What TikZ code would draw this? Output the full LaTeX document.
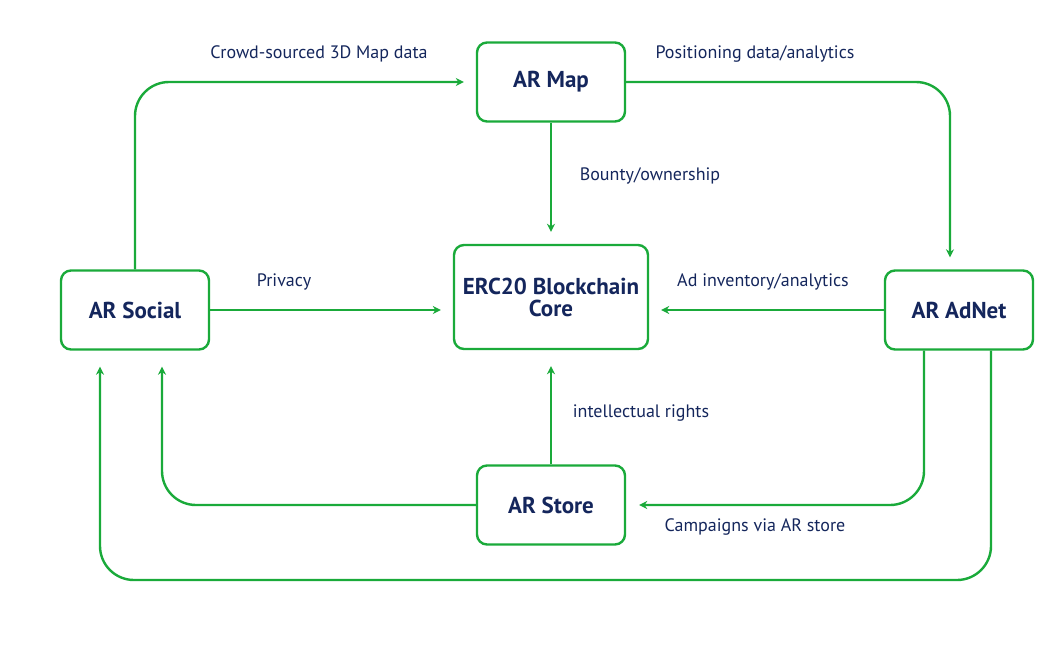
\documentclass[tikz,border=0pt]{standalone}
\usepackage{fontspec}
\setmainfont{PT Sans}
\usetikzlibrary{arrows.meta}
\definecolor{argreen}{RGB}{26,170,58}
\definecolor{arnavy}{RGB}{20,38,92}
\tikzset{
  box/.style = {draw = argreen, line width = 2.4pt, rounded corners = 10pt, fill = white,
    minimum width = 148pt, minimum height = 79pt, align = center, text = arnavy,
    font = \fontsize{23}{22}\selectfont\bfseries},
  flow/.style = {draw = argreen, line width = 2.4pt, rounded corners = 34pt,
    -{Stealth[length = 8pt, width = 8pt]}, shorten > = 12pt},
  lbl/.style = {text = arnavy, font = \fontsize{18}{21}\selectfont}
}
\begin{document}
\begin{tikzpicture}[x = 1pt, y = -1pt]
\useasboundingbox (0,0) rectangle (1054,645);
% boxes
\node [box] (map) at (551,82) {AR Map};
\node [box, minimum width = 194pt, minimum height = 104pt] (core) at (551,297) {ERC20 Blockchain\\Core};
\node [box] (social) at (135,310) {AR Social};
\node [box] (adnet) at (959,310) {AR AdNet};
\node [box] (store) at (551,505) {AR Store};
\coordinate (loop) at (100,580);
% connectors
\draw [flow] (social.north) |- (map.west);
\draw [flow] (map.east) -| ([xshift = -9pt]adnet.north);
\draw [flow] (map.south) -- (core.north);
\draw [flow] (social.east) -- (social.east -| core.west);
\draw [flow] (adnet.west) -- (adnet.west -| core.east);
\draw [flow, shorten > = 16pt] (store.north) -- (core.south);
\draw [flow, shorten > = 16pt] (store.west) -| ([xshift = 27pt]social.south);
\draw [flow, shorten > = 13pt] ([xshift = -35pt]adnet.south) |- (store.east);
\draw [flow, shorten > = 16pt] ([xshift = 32pt]adnet.south) |- (loop) -- ([xshift = -35pt]social.south);
% labels
\node [lbl] (crowd) at (319,54) {Crowd-sourced 3D Map data};
\node [lbl] (posdata) at (755,54) {Positioning data/analytics};
\node [lbl] (bounty) at (650,176) {Bounty/ownership};
\node [lbl] (privacy) at (284,282) {Privacy};
\node [lbl] (adinv) at (763,282) {Ad inventory/analytics};
\node [lbl] (rights) at (641,413) {intellectual rights};
\node [lbl] (campaigns) at (755,527) {Campaigns via AR store};
\end{tikzpicture}
\end{document}
